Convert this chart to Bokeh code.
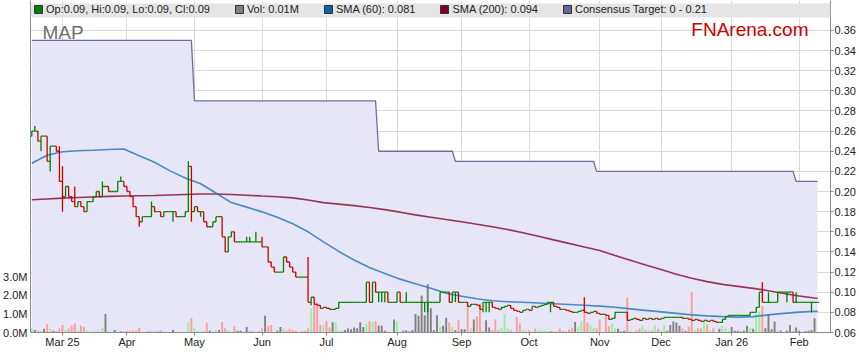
import pandas as pd
from bokeh.plotting import figure
from bokeh.models import (ColumnDataSource, Range1d, LinearAxis, FixedTicker, Label,
                          Legend, LegendItem, BoxAnnotation, PrintfTickFormatter)
from bokeh.embed import file_html
from bokeh.resources import INLINE

# ---------------- data ----------------
TICKER = "MAP"
START_DATE = "2025-02-17"          # first weekday shown
FIRST_OPEN = 0.255

CLOSE = [
    0.26, 0.26, 0.25, 0.255, 0.255,
    0.23, 0.245, 0.245, 0.24, 0.21,
    0.195, 0.205, 0.195, 0.19, 0.185,
    0.19, 0.185, 0.18, 0.19, 0.19,
    0.195, 0.2, 0.195, 0.205, 0.205,
    0.2, 0.2, 0.2, 0.21, 0.21,
    0.205, 0.2, 0.195, 0.185, 0.175,
    0.17, 0.175, 0.175, 0.175, 0.185,
    0.18, 0.18, 0.175, 0.18, 0.18,
    0.18, 0.18, 0.175, 0.175, 0.175,
    0.18, 0.225, 0.18, 0.185, 0.18,
    0.18, 0.17, 0.165, 0.165, 0.17,
    0.175, 0.175, 0.155, 0.14, 0.155,
    0.16, 0.15, 0.15, 0.15, 0.15,
    0.15, 0.15, 0.15, 0.15, 0.15,
    0.145, 0.145, 0.13, 0.125, 0.12,
    0.12, 0.12, 0.135, 0.13, 0.125,
    0.12, 0.115, 0.115, 0.115, 0.115,
    0.09, 0.095, 0.088, 0.087, 0.084,
    0.085, 0.084, 0.083, 0.083, 0.084,
    0.09, 0.09, 0.09, 0.09, 0.09,
    0.09, 0.09, 0.09, 0.09, 0.11,
    0.09, 0.11, 0.1, 0.1, 0.1,
    0.1, 0.09, 0.09, 0.09, 0.1,
    0.09, 0.09, 0.09, 0.09, 0.09,
    0.09, 0.09, 0.09, 0.09, 0.09,
    0.09, 0.09, 0.09, 0.1, 0.1,
    0.1, 0.09, 0.1, 0.1, 0.09,
    0.09, 0.09, 0.086, 0.088, 0.088,
    0.087, 0.083, 0.09, 0.09, 0.09,
    0.085, 0.084, 0.083, 0.085, 0.086,
    0.087, 0.084, 0.082, 0.081, 0.08,
    0.082, 0.083, 0.082, 0.086, 0.085,
    0.086, 0.087, 0.088, 0.09, 0.09,
    0.086, 0.085, 0.083, 0.083, 0.082,
    0.081, 0.08, 0.08, 0.081, 0.082,
    0.08, 0.079, 0.08, 0.081, 0.079,
    0.078, 0.078, 0.077, 0.073, 0.074,
    0.08, 0.08, 0.08, 0.08, 0.072,
    0.073, 0.074, 0.073, 0.072, 0.074,
    0.073, 0.074, 0.073, 0.074, 0.073,
    0.074, 0.075, 0.075, 0.075, 0.075,
    0.075, 0.075, 0.074, 0.074, 0.073,
    0.072, 0.073, 0.072, 0.071, 0.072,
    0.071, 0.072, 0.071, 0.07, 0.07,
    0.073, 0.076, 0.077, 0.077, 0.077,
    0.077, 0.077, 0.077, 0.077, 0.08,
    0.08, 0.085, 0.1, 0.09, 0.09,
    0.09, 0.09, 0.09, 0.1, 0.1,
    0.1, 0.1, 0.1, 0.09, 0.09,
    0.09, 0.09, 0.09, 0.09, 0.09,
    0.09, 0.09,
]

# intraday extremes that reach beyond open/close (day index -> price)
HIGH_WICKS = {1: 0.265, 9: 0.245, 10: 0.225, 14: 0.205, 23: 0.21, 29: 0.215,
              39: 0.19, 51: 0.23, 70: 0.155, 71: 0.155, 73: 0.16, 75: 0.155,
              77: 0.14, 90: 0.135, 122: 0.1, 180: 0.095, 238: 0.11, 240: 0.1,
              249: 0.1}
LOW_WICKS = {3: 0.24, 6: 0.22, 10: 0.18, 35: 0.165, 46: 0.17, 52: 0.17,
             55: 0.175, 91: 0.087, 113: 0.09, 114: 0.09, 115: 0.09, 128: 0.08,
             129: 0.08, 137: 0.09, 138: 0.09, 147: 0.08, 148: 0.08, 149: 0.08,
             169: 0.08, 246: 0.09, 254: 0.08}

VOLUME_M = [
    0.23, 0.14, 0.1, 0.1, 0.2,
    0.46, 0.2, 0.09, 0.1, 0.23,
    0.4, 0.14, 0.2, 0.36, 0.48,
    0.09, 0.36, 0.3, 0.09, 0.0,
    0.05, 0.05, 0.05, 0.25, 1.0,
    0.05, 0.0, 0.14, 0.05, 0.05,
    0.07, 0.09, 0.09, 0.11, 0.09,
    0.23, 0.0, 0.0, 0.05, 0.09,
    0.05, 0.05, 0.12, 0.05, 0.0,
    0.0, 0.14, 0.0, 0.0, 0.0,
    0.0, 0.57, 0.77, 0.23, 0.05,
    0.0, 0.05, 0.52, 0.09, 0.05,
    0.14, 0.14, 0.57, 0.23, 0.14,
    0.05, 0.34, 0.09, 0.09, 0.0,
    0.3, 0.05, 0.05, 0.0, 0.05,
    0.23, 0.9, 0.36, 0.4, 0.0,
    0.09, 0.3, 0.2, 0.09, 0.2,
    0.14, 0.09, 0.0, 0.05, 0.05,
    0.23, 1.3, 1.5, 1.6, 0.4,
    0.4, 0.62, 0.27, 0.55, 0.55,
    0.09, 0.05, 0.14, 0.21, 0.18,
    0.27, 0.23, 0.55, 0.3, 0.48,
    0.62, 0.55, 0.62, 0.38, 0.36,
    0.09, 0.05, 0.0, 0.7, 0.62,
    0.0, 0.09, 0.12, 0.05, 0.14,
    1.0, 0.9, 2.0, 0.93, 2.6,
    1.3, 0.12, 0.93, 0.3, 0.36,
    0.8, 0.54, 0.3, 0.12, 0.66,
    0.18, 0.18, 1.43, 0.23, 0.7,
    0.86, 1.55, 0.14, 0.66, 0.27,
    0.14, 0.7, 0.14, 0.27, 1.0,
    0.2, 0.12, 0.0, 0.84, 0.48,
    0.14, 0.09, 0.12, 0.07, 0.2,
    0.09, 0.14, 0.12, 0.07, 0.07,
    0.07, 0.05, 0.21, 0.05, 0.07,
    0.16, 0.27, 0.57, 0.3, 0.59,
    1.25, 0.54, 0.4, 0.27, 0.23,
    0.7, 0.03, 0.87, 0.34, 0.48,
    0.23, 0.2, 0.05, 0.09, 1.9,
    0.09, 0.0, 0.12, 0.2, 0.36,
    0.14, 0.14, 0.12, 0.41, 0.2,
    0.12, 0.41, 0.09, 0.41, 0.59,
    0.54, 0.36, 0.23, 0.09, 0.32,
    2.2, 0.12, 0.23, 0.21, 0.62,
    0.45, 0.14, 0.23, 0.0, 0.2,
    0.34, 0.23, 0.09, 0.3, 0.09,
    0.09, 0.05, 0.09, 0.36, 0.27,
    0.2, 1.0, 1.15, 1.43, 0.23,
    1.0, 0.18, 0.59, 0.09, 0.09,
    0.03, 0.09, 0.41, 0.09, 0.27,
    0.09, 0.03, 0.07, 0.09, 0.14,
    0.77, 0.01,
]

# moving averages, read every 5th trading day (+ last day)
SMA_IDX = list(range(0, 256, 5)) + [256]
SMA60 = [0.228, 0.236, 0.2395, 0.2405, 0.241, 0.2418, 0.2422, 0.2355, 0.229, 0.2205,
         0.2135, 0.2077, 0.1985, 0.189, 0.1845, 0.1798, 0.1745, 0.168, 0.160, 0.150,
         0.1405, 0.132, 0.1245, 0.1185, 0.113, 0.1085, 0.104, 0.099, 0.096, 0.0935,
         0.0915, 0.0905, 0.090, 0.0893, 0.0886, 0.0878, 0.087, 0.0862, 0.085, 0.0835,
         0.082, 0.0805, 0.079, 0.0775, 0.0765, 0.0758, 0.0753, 0.0758, 0.0775, 0.079,
         0.0802, 0.081, 0.081]
SMA200 = [0.1918, 0.1926, 0.1934, 0.194, 0.1946, 0.1952, 0.1956, 0.1958, 0.196, 0.1965,
          0.197, 0.1975, 0.1975, 0.197, 0.1963, 0.1955, 0.1948, 0.1937, 0.1915, 0.189,
          0.1875, 0.186, 0.1842, 0.182, 0.1795, 0.1768, 0.1745, 0.1722, 0.170, 0.1675,
          0.165, 0.1622, 0.159, 0.1555, 0.152, 0.1485, 0.145, 0.1414, 0.1365, 0.1318,
          0.127, 0.1225, 0.1178, 0.1138, 0.1105, 0.1078, 0.1058, 0.1038, 0.1015, 0.0988,
          0.0962, 0.0943, 0.094]

# consensus target levels and the trading-day index where each starts
TARGET_LEVELS = [0.35, 0.29, 0.24, 0.23, 0.22, 0.21]
TARGET_START = [0, 53, 113, 138, 184, 249]

MONTH_LABELS = ["Mar 25", "Apr", "May", "Jun", "Jul", "Aug", "Sep", "Oct", "Nov", "Dec", "Jan 26", "Feb"]
BOLD_LABELS = ["Mar 25", "Jan 26"]
PRICE_TICKS = [0.06, 0.08, 0.10, 0.12, 0.14, 0.16, 0.18, 0.20, 0.22, 0.24, 0.26, 0.28, 0.30, 0.32, 0.34, 0.36]
VOL_TICKS = [0, 1, 2, 3]

# ---------------- derived ----------------
n = len(CLOSE)
assert len(VOLUME_M) == n
idx = list(range(n))
dates = pd.bdate_range(START_DATE, periods=n)
opens = [FIRST_OPEN] + CLOSE[:-1]
highs = [max(o, c, HIGH_WICKS.get(i, 0)) for i, (o, c) in enumerate(zip(opens, CLOSE))]
lows = [min(o, c, LOW_WICKS.get(i, 1)) for i, (o, c) in enumerate(zip(opens, CLOSE))]

GREEN, RED = "#008000", "#CC0000"
bar_col = [GREEN if c >= o else RED for o, c in zip(opens, CLOSE)]
prev = [FIRST_OPEN] + CLOSE[:-1]
vol_col = ["#99F099" if c > pc else ("#FF9C9C" if c < pc else "#808080") for c, pc in zip(CLOSE, prev)]

target = []
for i in idx:
    lvl = TARGET_LEVELS[0]
    for s, v in zip(TARGET_START, TARGET_LEVELS):
        if i >= s:
            lvl = v
    target.append(lvl)

# month ticks: first weekday of each month after the first one
periods = dates.to_period("M")
month_idx = [i for i in range(1, n) if periods[i] != periods[i - 1]]

src = ColumnDataSource(dict(i=idx, o=opens, h=highs, l=lows, c=CLOSE, col=bar_col,
                            il=[i - 0.5 for i in idx], ir=[i + 0.5 for i in idx],
                            v=VOLUME_M, vcol=vol_col, t=target))

# ---------------- figure ----------------
W, H = 858, 362
FRAME_H = 332
PX_PER_PRICE = 1007.0
YMAX = 0.06 + FRAME_H / PX_PER_PRICE
FONT = "Liberation Sans"

p = figure(width=W, height=H, x_range=Range1d(-0.42, 260.2), y_range=Range1d(0.06, YMAX),
           output_backend="svg", toolbar_location=None, y_axis_location="right",
           min_border_left=30, min_border_right=28, min_border_top=0, min_border_bottom=H - FRAME_H)
p.outline_line_color = None
p.background_fill_color = "white"
p.border_fill_color = "white"

p.extra_y_ranges = {"vol": Range1d(0, FRAME_H / 18.56)}

# right price axis
ya = p.yaxis[0]
ya.ticker = FixedTicker(ticks=PRICE_TICKS)
ya.formatter = PrintfTickFormatter(format="%.2f")
ya.minor_tick_line_color = None
ya.major_tick_in = 0
ya.major_tick_out = 3
ya.major_label_standoff = 1
ya.axis_line_color = "#8C8C8C"
ya.major_tick_line_color = "#8C8C8C"
ya.major_label_text_font = FONT
ya.major_label_text_font_size = "11px"
ya.major_label_text_color = "#222222"

# left volume axis
va = LinearAxis(y_range_name="vol", ticker=FixedTicker(ticks=VOL_TICKS),
                formatter=PrintfTickFormatter(format="%.1fM"))
va.minor_tick_line_color = None
va.major_tick_in = 0
va.major_tick_out = 0
va.major_label_standoff = 3
va.axis_line_color = "#8C8C8C"
va.major_label_text_font = FONT
va.major_label_text_font_size = "11px"
va.major_label_text_color = "#222222"
p.add_layout(va, "left")

# bottom axis
xa = p.xaxis[0]
xa.ticker = FixedTicker(ticks=month_idx)
xa.major_label_overrides = {k: lab for k, lab in zip(month_idx, MONTH_LABELS)}
xa.minor_tick_line_color = None
xa.major_tick_in = 0
xa.major_tick_out = 3
xa.major_label_standoff = 0
xa.axis_line_color = "#8C8C8C"
xa.major_tick_line_color = "#8C8C8C"
xa.major_label_text_font = FONT
xa.major_label_text_font_size = "11px"
xa.major_label_text_color = "#222222"

p.xgrid.ticker = FixedTicker(ticks=month_idx)
p.ygrid.ticker = FixedTicker(ticks=PRICE_TICKS)
p.xgrid.grid_line_color = "#D9D9D9"
p.ygrid.grid_line_color = "#D9D9D9"

# consensus target area
p.varea(x="i", y1=0.06, y2="t", source=src, fill_color="#E6E6F6")
p.line(x="i", y="t", source=src, line_color="#6E6E9E", line_width=1.3)

# volume
p.vbar(x="i", top="v", bottom=0, width=0.62, source=src, fill_color="vcol", line_color=None,
       y_range_name="vol")

# moving averages
p.line(x=SMA_IDX, y=SMA200, line_color="#8A1538", line_width=1.6, line_alpha=0.85)
p.line(x=SMA_IDX, y=SMA60, line_color="#2A7AB8", line_width=1.6, line_alpha=0.85)

# OHLC bars
p.segment(x0="i", y0="l", x1="i", y1="h", source=src, line_color="col", line_width=1.3)
p.segment(x0="il", y0="o", x1="i", y1="o", source=src, line_color="col", line_width=1.3)
p.segment(x0="i", y0="c", x1="ir", y1="c", source=src, line_color="col", line_width=1.3)

# legend strip
p.add_layout(BoxAnnotation(top=YMAX - 3 / PX_PER_PRICE, bottom=YMAX - 17 / PX_PER_PRICE,
                           fill_color="#E2E2E2", fill_alpha=0.9, line_color=None, level="overlay"))


def swatch(color):
    # legend-only swatch, kept outside the visible x range
    return p.quad(left=[-50], right=[-49], top=[0.1], bottom=[0.09], fill_color=color,
                  line_color="#333333")


last = n - 1
items = [
    LegendItem(label="Op:%g, Hi:%g, Lo:%g, Cl:%g" % (opens[last], highs[last], lows[last], CLOSE[last]),
               renderers=[swatch(GREEN)]),
    LegendItem(label="Vol: %.2fM" % VOLUME_M[last], renderers=[swatch("#808080")]),
    LegendItem(label="SMA (60): %.3f" % SMA60[-1], renderers=[swatch("#0A62A6")]),
    LegendItem(label="SMA (200): %.3f" % SMA200[-1], renderers=[swatch("#800020")]),
    LegendItem(label="Consensus Target: 0 - %g" % TARGET_LEVELS[-1], renderers=[swatch("#66668F")]),
]
legend = Legend(items=items, orientation="horizontal", location="top_left", margin=3, padding=2,
                spacing=24, glyph_width=10, glyph_height=10, label_standoff=3,
                label_text_font=FONT, label_text_font_size="11px", label_text_color="#222222",
                background_fill_alpha=0, border_line_color=None, label_height=10)
p.add_layout(legend)

# titles
p.add_layout(Label(x=12, y=FRAME_H - 21, x_units="screen", y_units="screen", text=TICKER,
                   text_baseline="top", text_font=FONT, text_font_size="19px", text_color="#707070"))
p.add_layout(Label(x=778, y=FRAME_H - 18, x_units="screen", y_units="screen", text="FNArena.com",
                   text_align="right", text_baseline="top", text_font=FONT, text_font_size="19px",
                   text_color="#CC0000"))

# year labels drawn bold over the plain axis labels
for k, lab in zip(month_idx, MONTH_LABELS):
    if lab in BOLD_LABELS:
        p.add_layout(Label(x=k, y=-3, y_units="screen", text=lab, text_align="center",
                           text_baseline="top", text_font=FONT, text_font_size="11px",
                           text_font_style="bold", text_color="#222222",
                           background_fill_color="white", level="overlay"))

open("out.html", "w").write(file_html(p, INLINE))
